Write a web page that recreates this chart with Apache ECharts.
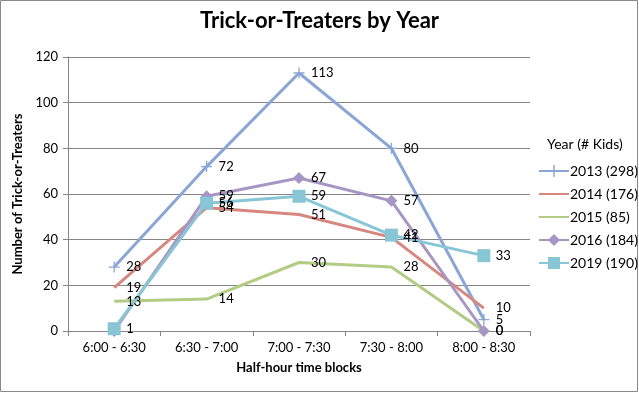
<!DOCTYPE html>
<html><head><meta charset="utf-8">
<script src="https://cdn.jsdelivr.net/npm/echarts@6/dist/echarts.min.js"></script>
<style>html,body{margin:0;padding:0;background:#fff}#c{width:639px;height:393px}</style>
</head><body><div id="c"></div>
<script>
const categories = ['6:00 - 6:30','6:30 - 7:00','7:00 - 7:30','7:30 - 8:00','8:00 - 8:30'];
const s2013 = [28, 72, 113, 80, 5];
const s2014 = [19, 54, 51, 41, 10];
const s2015 = [13, 14, 30, 28, 0];
const s2016 = [0, 59, 67, 57, 0];
const s2019 = [1, 56, 59, 42, 33];
const seriesNames = ['2013 (298)','2014 (176)','2015 (85)','2016 (184)','2019 (190)'];
const yTicks = [0, 20, 40, 60, 80, 100, 120];

const FONT = 'Lato, "Open Sans", sans-serif';
const colors = ['#8aa6d6','#d6877f','#b2cc85','#a795c4','#88c6d6'];
const plus = 'path://M4.4,0h1.2v10h-1.2z M0,4.4h10v1.2h-10z';

function mk(name, data, color, symbol, size, hideFirstLabel) {
  const noMark = symbol === 'none';
  const sz = noMark ? 1 : size;
  return {
    name, type: 'line', data, color,
    symbol: noMark ? 'circle' : symbol, symbolSize: sz, showSymbol: true,
    lineStyle: { width: 3, color },
    itemStyle: noMark ? { color: 'rgba(0,0,0,0)', borderWidth: 0 } : { color },
    label: {
      show: true, position: 'right', distance: 12 - sz / 2,
      color: '#000', fontFamily: FONT, fontSize: 13,
      formatter: p => (hideFirstLabel && p.dataIndex === 0) ? '' : p.value
    },
    labelLayout: { hideOverlap: false },
    emphasis: { disabled: true },
    animation: false
  };
}

const chart = echarts.init(document.getElementById('c'), null, { renderer: 'canvas' });
chart.setOption({
  backgroundColor: '#fff',
  animation: false,
  title: {
    text: 'Trick-or-Treaters by Year', left: 'center', top: 5,
    textStyle: { fontFamily: FONT, fontWeight: 'bold', fontSize: 22, color: '#000' }
  },
  legend: {
    orient: 'vertical', left: 533, top: 159, itemGap: 9,
    itemWidth: 30, itemHeight: 15,
    textStyle: { fontFamily: FONT, fontSize: 14, color: '#000', padding: [0,0,0,-4] },
    data: seriesNames
  },
  graphic: [
    { type: 'text', left: 547, top: 137, style: { text: 'Year (# Kids)', font: '14px ' + FONT, fill: '#000' } },
    { type: 'rect', shape: { x: 0.5, y: 0.5, width: 637, height: 391 }, style: { fill: 'none', stroke: '#8a8a8a', lineWidth: 1 } }
  ],
  grid: { left: 68, right: 109, top: 57, bottom: 62 },
  xAxis: {
    type: 'category', data: categories, boundaryGap: true,
    name: 'Half-hour time blocks', nameLocation: 'middle', nameGap: 30,
    nameTextStyle: { fontFamily: FONT, fontWeight: 'bold', fontSize: 13, color: '#000' },
    axisLine: { lineStyle: { color: '#868686', width: 1 } },
    axisTick: { show: true, inside: false, length: 5, lineStyle: { color: '#868686' } },
    axisLabel: { fontFamily: FONT, fontSize: 13, color: '#000', margin: 10 }
  },
  yAxis: {
    type: 'value', min: 0, max: 120, interval: 20,
    name: 'Number of Trick-or-Treaters', nameLocation: 'middle', nameGap: 33, nameRotate: 90,
    nameTextStyle: { fontFamily: FONT, fontWeight: 'bold', fontSize: 13, color: '#000' },
    axisLine: { show: true, lineStyle: { color: '#868686', width: 1 } },
    axisTick: { show: true, inside: false, length: 5, lineStyle: { color: '#868686' } },
    splitLine: { show: true, lineStyle: { color: '#868686', width: 1 } },
    axisLabel: { fontFamily: FONT, fontSize: 13, color: '#000', margin: 10,
      formatter: v => yTicks.includes(v) ? String(v) : '' }
  },
  series: [
    mk(seriesNames[0], s2013, colors[0], plus, 11, false),
    mk(seriesNames[1], s2014, colors[1], 'none', 0, false),
    mk(seriesNames[2], s2015, colors[2], 'none', 0, false),
    mk(seriesNames[3], s2016, colors[3], 'diamond', 12, true),
    mk(seriesNames[4], s2019, colors[4], 'rect', 13, false)
  ]
});
</script></body></html>
